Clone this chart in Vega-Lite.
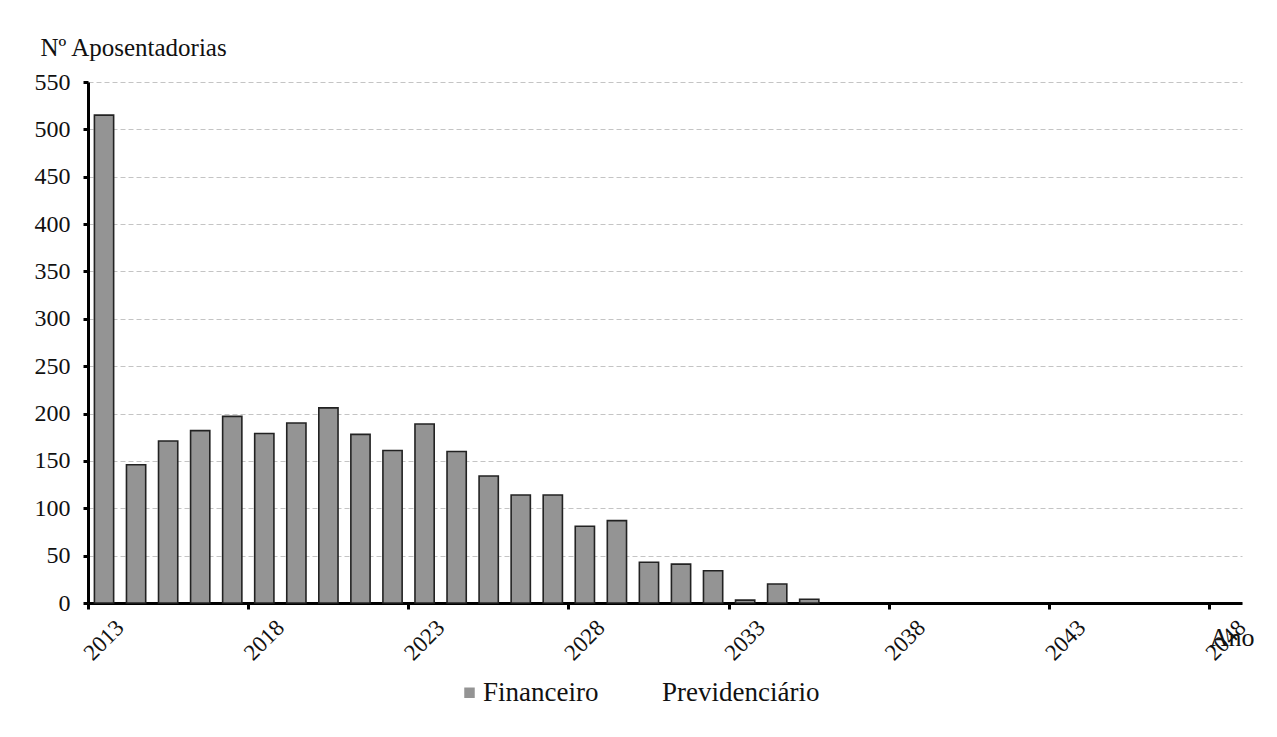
{
  "$schema": "https://vega.github.io/schema/vega-lite/v6.json",
  "autosize": {"type": "none"},
  "width": 1154,
  "height": 521,
  "padding": {"left": 88, "top": 82, "right": 35, "bottom": 134},
  "background": "white",
  "config": {
    "font": "Liberation Serif, Times New Roman, serif",
    "view": {"stroke": null}
  },
  "data": {
    "values": [
      {"ano": 2013, "valor": 515, "serie": "Financeiro"},
      {"ano": 2014, "valor": 146, "serie": "Financeiro"},
      {"ano": 2015, "valor": 171, "serie": "Financeiro"},
      {"ano": 2016, "valor": 182, "serie": "Financeiro"},
      {"ano": 2017, "valor": 197, "serie": "Financeiro"},
      {"ano": 2018, "valor": 179, "serie": "Financeiro"},
      {"ano": 2019, "valor": 190, "serie": "Financeiro"},
      {"ano": 2020, "valor": 206, "serie": "Financeiro"},
      {"ano": 2021, "valor": 178, "serie": "Financeiro"},
      {"ano": 2022, "valor": 161, "serie": "Financeiro"},
      {"ano": 2023, "valor": 189, "serie": "Financeiro"},
      {"ano": 2024, "valor": 160, "serie": "Financeiro"},
      {"ano": 2025, "valor": 134, "serie": "Financeiro"},
      {"ano": 2026, "valor": 114, "serie": "Financeiro"},
      {"ano": 2027, "valor": 114, "serie": "Financeiro"},
      {"ano": 2028, "valor": 81, "serie": "Financeiro"},
      {"ano": 2029, "valor": 87, "serie": "Financeiro"},
      {"ano": 2030, "valor": 43, "serie": "Financeiro"},
      {"ano": 2031, "valor": 41, "serie": "Financeiro"},
      {"ano": 2032, "valor": 34, "serie": "Financeiro"},
      {"ano": 2033, "valor": 3, "serie": "Financeiro"},
      {"ano": 2034, "valor": 20, "serie": "Financeiro"},
      {"ano": 2035, "valor": 4, "serie": "Financeiro"}
    ]
  },
  "mark": {"type": "bar", "width": {"band": 0.6}, "stroke": "#222222", "strokeWidth": 1.6},
  "encoding": {
    "x": {
      "field": "ano",
      "type": "ordinal",
      "scale": {
        "domain": [2013, 2014, 2015, 2016, 2017, 2018, 2019, 2020, 2021, 2022, 2023, 2024, 2025, 2026, 2027, 2028, 2029, 2030, 2031, 2032, 2033, 2034, 2035, 2036, 2037, 2038, 2039, 2040, 2041, 2042, 2043, 2044, 2045, 2046, 2047, 2048],
        "paddingInner": 0,
        "paddingOuter": 0
      },
      "axis": {
        "values": [2013, 2018, 2023, 2028, 2033, 2038, 2043, 2048],
        "bandPosition": 0,
        "title": "Ano",
        "titleFont": "Liberation Serif, Times New Roman, serif",
        "titleFontSize": 26,
        "titleFontWeight": "normal",
        "titleColor": "#111",
        "titleAnchor": "end",
        "titleAlign": "right",
        "titleBaseline": "alphabetic",
        "titleX": 1166,
        "titleY": 42,
        "labelAngle": -45,
        "labelAlign": "center",
        "labelBaseline": "middle",
        "labelPadding": 31,
        "labelFont": "Liberation Serif, Times New Roman, serif",
        "labelFontSize": 23,
        "labelColor": "#111",
        "domainColor": "#000",
        "domainWidth": 3,
        "tickColor": "#000",
        "tickWidth": 3,
        "tickSize": 6,
        "grid": false
      }
    },
    "y": {
      "field": "valor",
      "type": "quantitative",
      "scale": {"domain": [0, 550], "nice": false},
      "axis": {
        "values": [0, 50, 100, 150, 200, 250, 300, 350, 400, 450, 500, 550],
        "title": "Nº Aposentadorias",
        "titleAngle": 0,
        "titleAlign": "left",
        "titleBaseline": "alphabetic",
        "titleX": -48,
        "titleY": -27,
        "titleFont": "Liberation Serif, Times New Roman, serif",
        "titleFontSize": 25,
        "titleFontWeight": "normal",
        "titleColor": "#111",
        "labelFont": "Liberation Serif, Times New Roman, serif",
        "labelFontSize": 24,
        "labelColor": "#111",
        "labelPadding": 13,
        "domainColor": "#000",
        "domainWidth": 3,
        "tickColor": "#000",
        "tickWidth": 3,
        "tickSize": 5,
        "grid": true,
        "gridColor": "#c4c4c4",
        "gridDash": [5, 3],
        "gridWidth": 1
      }
    },
    "color": {
      "field": "serie",
      "type": "nominal",
      "scale": {"domain": ["Financeiro", "Previdenciário"], "range": ["#949494", "#ffffff"]},
      "legend": {
        "title": null,
        "orient": "none",
        "direction": "horizontal",
        "legendX": 368,
        "legendY": 597,
        "symbolType": "square",
        "symbolSize": 110,
        "symbolStrokeWidth": 0,
        "labelFont": "Liberation Serif, Times New Roman, serif",
        "labelFontSize": 27,
        "labelColor": "#111",
        "labelOffset": 0,
        "columnPadding": 36
      }
    }
  }
}
